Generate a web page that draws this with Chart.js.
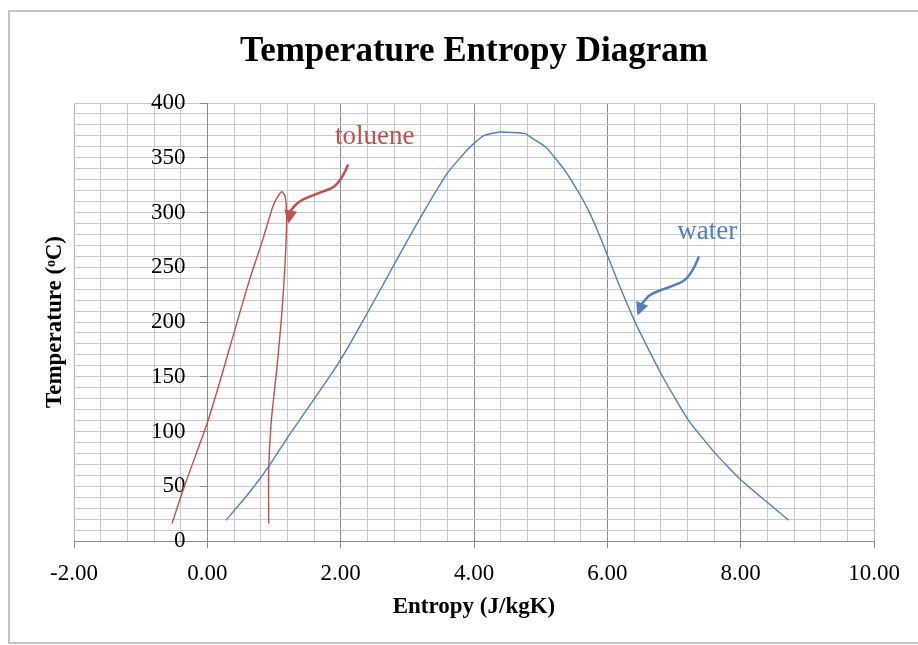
<!DOCTYPE html>
<html>
<head>
<meta charset="utf-8">
<script src="https://cdn.jsdelivr.net/npm/chart.js@4"></script>
<style>
  html, body { margin: 0; padding: 0; background: #fff; }
  #wrap { width: 918px; height: 645px; position: relative; }
</style>
</head>
<body>
<div id="wrap"><canvas id="tsChart"></canvas></div>
<script>
// ---- data (entropy J/kgK, temperature °C) ----
const waterS = [0.28, 0.60, 0.92, 1.23, 1.64, 1.94, 2.14, 2.59, 3.08, 3.59, 3.91, 4.14, 4.39, 4.77, 4.84, 5.07, 5.22, 5.39, 5.62, 5.74, 5.89, 6.02, 6.17, 6.35, 6.47, 6.83, 7.22, 7.62, 8.00, 8.72];
const waterT = [19, 42, 68, 97, 133, 160, 180, 229, 283, 335, 358, 370, 373.5, 372, 369, 360, 349.5, 336, 313, 299, 278, 258, 235, 209, 193, 150, 110, 80, 56, 19];

const tolueneS = [-0.53, -0.35, 0.00, 0.21, 0.38, 0.63, 0.83, 0.98, 1.05, 1.12, 1.17, 1.19, 1.16, 1.11, 1.04, 0.96, 0.92, 0.92];
const tolueneT = [16, 49, 108, 150, 186, 238, 275, 305, 314, 319, 314, 293, 247, 202, 156, 110, 65, 16];

// axis ranges / tick labels
const xMin = -2, xMax = 10, xMinor = 0.4, xMajor = 2;
const yMin = 0, yMax = 400, yMinor = 10, yMajor = 50;

// labels + arrows, in data units
const notes = [
  { text: "toluene", color: "#c0504d", at: [2.51, 369],
    arrow: [[2.105, 343], [1.985, 325], [1.684, 318], [1.383, 311], [1.25, 302], [1.218, 290]] },
  { text: "water", color: "#4f81bd", at: [7.50, 282],
    arrow: [[7.368, 259], [7.248, 240], [6.947, 232], [6.692, 227], [6.541, 220], [6.451, 206]] }
];

const SERIF = "'Liberation Serif', 'Times New Roman', serif";
const YPAD = "\u2002 \u2009"; // keeps y labels clear of the axis at x = 0

function toPts(xs, ys) {
  return xs.map((x, i) => ({ x: x, y: ys[i] }));
}

function isMult(v, step) {
  const r = v / step;
  return Math.abs(r - Math.round(r)) < 1e-6;
}

/*******************************************************
 * outer frame + annotations
 *******************************************************/
const framePlugin = {
  id: 'frame',
  beforeDraw(chart) {
    const ctx = chart.ctx;
    ctx.save();
    ctx.strokeStyle = '#c4c4c4';
    ctx.lineWidth = 2;
    ctx.strokeRect(9, 11, chart.width + 20, chart.height - 13);
    ctx.restore();
  }
};

const notesPlugin = {
  id: 'notes',
  afterDatasetsDraw(chart) {
    const ctx = chart.ctx;
    const sx = chart.scales.x, sy = chart.scales.y;
    const px = p => [sx.getPixelForValue(p[0]), sy.getPixelForValue(p[1])];
    ctx.save();
    notes.forEach(n => {
      // text
      const t = px(n.at);
      ctx.fillStyle = n.color;
      ctx.font = "27px " + SERIF;
      ctx.textAlign = 'center';
      ctx.textBaseline = 'middle';
      ctx.fillText(n.text, t[0], t[1]);

      // curved arrow
      const pts = n.arrow.map(px);
      const tip = pts[pts.length - 1];
      const prev = pts[pts.length - 2];
      const ang = Math.atan2(tip[1] - prev[1], tip[0] - prev[0]);
      const headLen = 13, headW = 6.5;
      const base = [tip[0] - Math.cos(ang) * headLen, tip[1] - Math.sin(ang) * headLen];

      ctx.strokeStyle = n.color;
      ctx.lineWidth = 2.5;
      ctx.lineCap = 'round';
      ctx.beginPath();
      ctx.moveTo(pts[0][0], pts[0][1]);
      for (let i = 1; i < pts.length - 2; i++) {
        const mx = (pts[i][0] + pts[i + 1][0]) / 2;
        const my = (pts[i][1] + pts[i + 1][1]) / 2;
        ctx.quadraticCurveTo(pts[i][0], pts[i][1], mx, my);
      }
      ctx.lineTo(base[0], base[1]);
      ctx.stroke();

      ctx.fillStyle = n.color;
      ctx.beginPath();
      ctx.moveTo(tip[0], tip[1]);
      ctx.lineTo(base[0] - Math.sin(ang) * headW, base[1] + Math.cos(ang) * headW);
      ctx.lineTo(base[0] + Math.sin(ang) * headW, base[1] - Math.cos(ang) * headW);
      ctx.closePath();
      ctx.fill();
    });
    ctx.restore();
  }
};

/*******************************************************
 * chart
 *******************************************************/
const ctx = document.getElementById('tsChart').getContext('2d');
new Chart(ctx, {
  type: 'scatter',
  data: {
    datasets: [
      {
        label: 'water',
        data: toPts(waterS, waterT),
        showLine: true,
        borderColor: '#4f81bd',
        borderWidth: 1.4,
        pointRadius: 0,
        tension: 0.15
      },
      {
        label: 'toluene',
        data: toPts(tolueneS, tolueneT),
        showLine: true,
        borderColor: '#c0504d',
        borderWidth: 1.4,
        pointRadius: 0,
        tension: 0.2
      }
    ]
  },
  options: {
    responsive: true,
    maintainAspectRatio: false,
    animation: false,
    layout: { padding: { left: 0, right: 44, top: 0, bottom: 0 } },
    plugins: {
      legend: { display: false },
      tooltip: { enabled: false },
      title: {
        display: true,
        fullSize: false,
        text: 'Temperature Entropy Diagram',
        color: '#000',
        font: { family: SERIF, size: 35, weight: 'bold' },
        padding: { top: 31, bottom: 30 }
      }
    },
    scales: {
      x: {
        type: 'linear',
        position: 'bottom',
        min: xMin,
        max: xMax,
        afterFit: s => { s.height = 104; },
        ticks: {
          stepSize: xMinor,
          autoSkip: false,
          maxRotation: 0,
          color: '#000',
          padding: 12,
          font: { family: SERIF, size: 23 },
          callback: v => isMult(v, xMajor) ? v.toFixed(2) : ''
        },
        grid: {
          color: c => {
            const v = c.tick ? c.tick.value : 0;
            if (v === xMin || v === xMax) return '#b4b4b4';
            return isMult(v, xMajor) ? '#8a8a8a' : '#c8c8c8';
          },
          tickLength: 7,
          tickColor: c => (c.tick && isMult(c.tick.value, xMajor)) ? '#8a8a8a' : 'rgba(0,0,0,0)'
        },
        border: { color: '#8a8a8a' },
        title: {
          display: true,
          text: 'Entropy (J/kgK)',
          color: '#000',
          font: { family: SERIF, size: 23, weight: 'bold' },
          padding: { top: 0, bottom: 24 }
        }
      },
      y: {
        type: 'linear',
        position: { x: 0 },
        min: yMin,
        max: yMax,
        ticks: {
          stepSize: yMinor,
          autoSkip: false,
          color: '#000',
          padding: 14,
          font: { family: SERIF, size: 23 },
          callback: v => isMult(v, yMajor) ? String(v) + YPAD : ''
        },
        grid: {
          color: '#c8c8c8',
          tickLength: 7,
          tickColor: c => (c.tick && isMult(c.tick.value, yMajor)) ? '#8a8a8a' : 'rgba(0,0,0,0)'
        },
        border: { color: '#8a8a8a' }
      },
      yt: {
        type: 'linear',
        axis: 'y',
        position: 'left',
        afterFit: s => { s.width = 74; },
        ticks: { display: false },
        grid: { display: false, drawTicks: false },
        border: { display: false },
        title: {
          display: true,
          text: 'Temperature (ᵒC)',
          color: '#000',
          font: { family: SERIF, size: 23, weight: 'bold' },
          padding: { top: 41, bottom: 0 }
        }
      }
    }
  },
  plugins: [framePlugin, notesPlugin]
});
</script>
</body>
</html>
